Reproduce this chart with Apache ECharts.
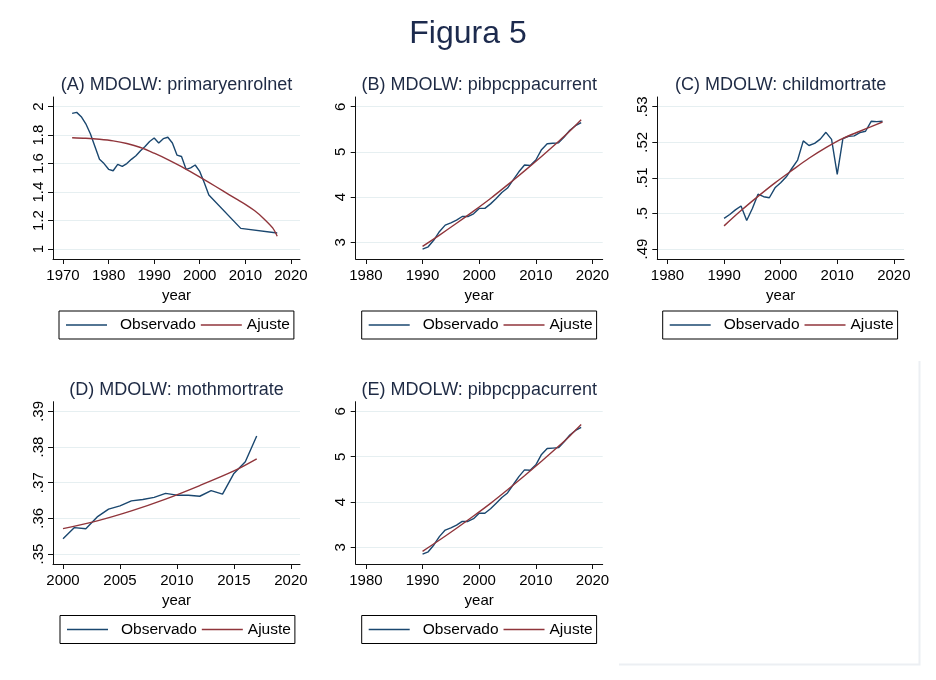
<!DOCTYPE html>
<html><head><meta charset="utf-8">
<script src="https://cdn.jsdelivr.net/npm/echarts@6/dist/echarts.min.js"></script>
<style>html,body{margin:0;padding:0;background:#fff}#c{width:936px;height:680px}</style>
</head><body><div id="c"></div>
<script>
// ---------- DATA ----------
const mainTitle = 'Figura 5';
const panelTitles = ['(A) MDOLW: primaryenrolnet', '(B) MDOLW: pibpcppacurrent', '(C) MDOLW: childmortrate', '(D) MDOLW: mothmortrate', '(E) MDOLW: pibpcppacurrent'];
const seriesNames = ['Observado', 'Ajuste'];
const xName = 'year';

// (A) primaryenrolnet
const yearsA = [1972,1973,1974,1975,1976,1977,1978,1979,1980,1981,1982,1983,1984,1985,1986,1987,1988,1989,1990,1991,1992,1993,1994,1995,1996,1997,1998,1999,2000,2001,2002,2009,2017];
const obsA   = [1.953,1.96,1.93,1.88,1.81,1.72,1.63,1.60,1.56,1.55,1.595,1.58,1.60,1.63,1.655,1.69,1.72,1.755,1.78,1.745,1.775,1.785,1.745,1.66,1.65,1.56,1.57,1.59,1.545,1.465,1.38,1.145,1.112];
const fitYearsA = [1972,1975,1978,1981,1984,1987,1990,1993,1996,1999,2002,2005,2008,2010,2012,2014,2016,2017];
const fitA      = [1.782,1.778,1.771,1.760,1.741,1.713,1.673,1.628,1.578,1.524,1.468,1.410,1.352,1.314,1.270,1.215,1.148,1.09];

// (B) and (E) pibpcppacurrent
const yearsB = [1990,1991,1992,1993,1994,1995,1996,1997,1998,1999,2000,2001,2002,2003,2004,2005,2006,2007,2008,2009,2010,2011,2012,2013,2014,2015,2016,2017,2018];
const obsB   = [2.85,2.90,3.05,3.24,3.38,3.43,3.49,3.57,3.57,3.63,3.75,3.75,3.85,3.97,4.10,4.20,4.38,4.56,4.71,4.70,4.82,5.05,5.18,5.19,5.20,5.33,5.48,5.58,5.65];
const fitYearsB = [1990,1993,1996,1999,2002,2005,2008,2011,2014,2016,2018];
const fitB      = [2.91,3.16,3.42,3.69,3.97,4.27,4.58,4.90,5.23,5.46,5.71];

// (C) childmortrate
const yearsC = [1990,1991,1992,1993,1994,1995,1996,1997,1998,1999,2000,2001,2002,2003,2004,2005,2006,2007,2008,2009,2010,2011,2012,2013,2014,2015,2016,2017,2018];
const obsC   = [0.4986,0.4997,0.5010,0.5021,0.4980,0.5014,0.5054,0.5047,0.5044,0.5072,0.5086,0.5103,0.5127,0.5150,0.5204,0.5191,0.5197,0.5209,0.5228,0.5208,0.5110,0.5210,0.5217,0.5218,0.5227,0.5231,0.5259,0.5258,0.5259];
const fitYearsC = [1990,1993,1996,1999,2002,2005,2008,2011,2014,2016,2018];
const fitC      = [0.4965,0.5008,0.5048,0.5086,0.5121,0.5155,0.5185,0.5211,0.5231,0.5244,0.5257];

// (D) mothmortrate
const yearsD = [2000,2001,2002,2003,2004,2005,2006,2007,2008,2009,2010,2011,2012,2013,2014,2015,2016,2017];
const obsD   = [0.3543,0.3574,0.3571,0.3604,0.3626,0.3635,0.3649,0.3653,0.3659,0.3670,0.3665,0.3665,0.3662,0.3678,0.3668,0.3726,0.3759,0.3831];
const fitYearsD = [2000,2003,2006,2009,2012,2015,2017];
const fitD      = [0.3571,0.3593,0.3621,0.3654,0.3692,0.3733,0.3767];

// tick labels
const xTicksA = [1970,1980,1990,2000,2010,2020];
const xTicksB = [1980,1990,2000,2010,2020];
const xTicksD = [2000,2005,2010,2015,2020];
const yTicksA = [1,1.2,1.4,1.6,1.8,2];
const yTicksB = [3,4,5,6];
const yTicksC = [0.49,0.50,0.51,0.52,0.53];
const yTicksD = [0.35,0.36,0.37,0.38,0.39];

// ---------- BUILD ----------
const FONT = 'Liberation Sans, Arial, sans-serif';
const OBS_COLOR = '#1a476f', FIT_COLOR = '#90353b';
const zip = (a, b) => a.map((v, i) => [v, b[i]]);
const dotFmt = v => String(+v.toFixed(4)).replace(/^0\./, '.');

const panels = [
  {grid:{left:53,  top:97,    width:247, height:162}, xr:[1967.8,2022.0], yr:[0.9297,2.068], xt:xTicksA, yt:yTicksA, yfmt:v=>String(+v.toFixed(2)), years:yearsA, obs:obsA, fy:fitYearsA, fit:fitA, leg:[59,311], tx:176.5, ty:85.3},
  {grid:{left:355.7,top:97,   width:247, height:162}, xr:[1978.2,2021.8], yr:[2.63,6.215],  xt:xTicksB, yt:yTicksB, yfmt:v=>String(v), years:yearsB, obs:obsB, fy:fitYearsB, fit:fitB, leg:[361.7,311], tx:479.2, ty:85.3},
  {grid:{left:657.3,top:97,   width:246.7,height:162}, xr:[1978.2,2021.8], yr:[0.48719,0.53273], xt:xTicksB, yt:yTicksC, yfmt:dotFmt, years:yearsC, obs:obsC, fy:fitYearsC, fit:fitC, leg:[662.7,311], tx:780.7, ty:85.3},
  {grid:{left:53,  top:401.7, width:247, height:162.3}, xr:[1999.12,2020.8], yr:[0.34719,0.39273], xt:xTicksD, yt:yTicksD, yfmt:dotFmt, years:yearsD, obs:obsD, fy:fitYearsD, fit:fitD, leg:[60,615.5], tx:176.5, ty:389.6},
  {grid:{left:355.7,top:401.7,width:247, height:162.3}, xr:[1978.2,2021.8], yr:[2.63,6.215],  xt:xTicksB, yt:yTicksB, yfmt:v=>String(v), years:yearsB, obs:obsB, fy:fitYearsB, fit:fitB, leg:[361.7,615.5], tx:479.2, ty:389.6}
];

const option = {
  animation: false,
  backgroundColor: '#fff',
  textStyle: {fontFamily: FONT},
  grid: [], xAxis: [], yAxis: [], series: [], legend: [],
  graphic: []
};

option.graphic.push({type:'text', x:468, y:34.4, style:{text:mainTitle, fontSize:32, fontFamily:FONT, fill:'#1c2a4d', textAlign:'center', textVerticalAlign:'middle'}});
option.graphic.push({type:'polyline', shape:{points:[[919.5,361],[919.5,664.5],[619,664.5]]}, style:{stroke:'#eceff3', lineWidth:2, fill:null}, silent:true});

panels.forEach((p, i) => {
  option.grid.push(Object.assign({containLabel:false}, p.grid));
  option.xAxis.push({
    type:'value', gridIndex:i, min:p.xr[0], max:p.xr[1],
    name:xName, nameLocation:'middle', nameGap:29,
    nameTextStyle:{fontSize:15, color:'#000', fontFamily:FONT},
    axisLine:{show:true, onZero:false, lineStyle:{color:'#111', width:1}},
    axisTick:{show:true, length:5, customValues:p.xt, lineStyle:{color:'#111', width:1}},
    axisLabel:{customValues:p.xt, fontSize:15, color:'#000', margin:9, fontFamily:FONT, formatter:v=>String(v)},
    splitLine:{show:false}
  });
  option.yAxis.push({
    type:'value', gridIndex:i, min:p.yr[0], max:p.yr[1],
    axisLine:{show:true, onZero:false, lineStyle:{color:'#111', width:1}},
    axisTick:{show:true, length:5, customValues:p.yt, lineStyle:{color:'#111', width:1}},
    axisLabel:{customValues:p.yt, rotate:90, fontSize:15, color:'#000', margin:7, fontFamily:FONT, formatter:p.yfmt},
    splitLine:{show:true, lineStyle:{color:'#e6eff1', width:1}}
  });
  option.series.push({
    name:seriesNames[0], type:'line', xAxisIndex:i, yAxisIndex:i,
    data:zip(p.years, p.obs), symbol:'none', showSymbol:false,
    lineStyle:{color:OBS_COLOR, width:1.4}, itemStyle:{color:OBS_COLOR}
  });
  option.series.push({
    name:seriesNames[1], type:'line', xAxisIndex:i, yAxisIndex:i,
    data:zip(p.fy, p.fit), symbol:'none', showSymbol:false, smooth:0.3,
    lineStyle:{color:FIT_COLOR, width:1.4}, itemStyle:{color:FIT_COLOR}
  });
  option.legend.push({
    data:seriesNames, left:p.leg[0], top:p.leg[1], orient:'horizontal',
    borderColor:'#000', borderWidth:1, borderRadius:0, padding:[6,4,6,7],
    icon:'rect', itemWidth:41, itemHeight:1.6, itemGap:5, selectedMode:false,
    textStyle:{fontSize:15.5, color:'#000', fontFamily:FONT, lineHeight:16, rich:{o:{padding:[0,0,0,8], fontSize:15.5, lineHeight:16, color:'#000', fontFamily:FONT}}},
    formatter: n => n === seriesNames[0] ? '{o|' + n + '}' : n
  });
  option.graphic.push({type:'text', x:p.tx, y:p.ty, style:{text:panelTitles[i], fontSize:18, fontFamily:FONT, fill:'#1e2a44', textAlign:'center', textVerticalAlign:'middle'}});
});

const chart = echarts.init(document.getElementById('c'), null, {renderer:'canvas'});
chart.setOption(option);
</script>
</body></html>
